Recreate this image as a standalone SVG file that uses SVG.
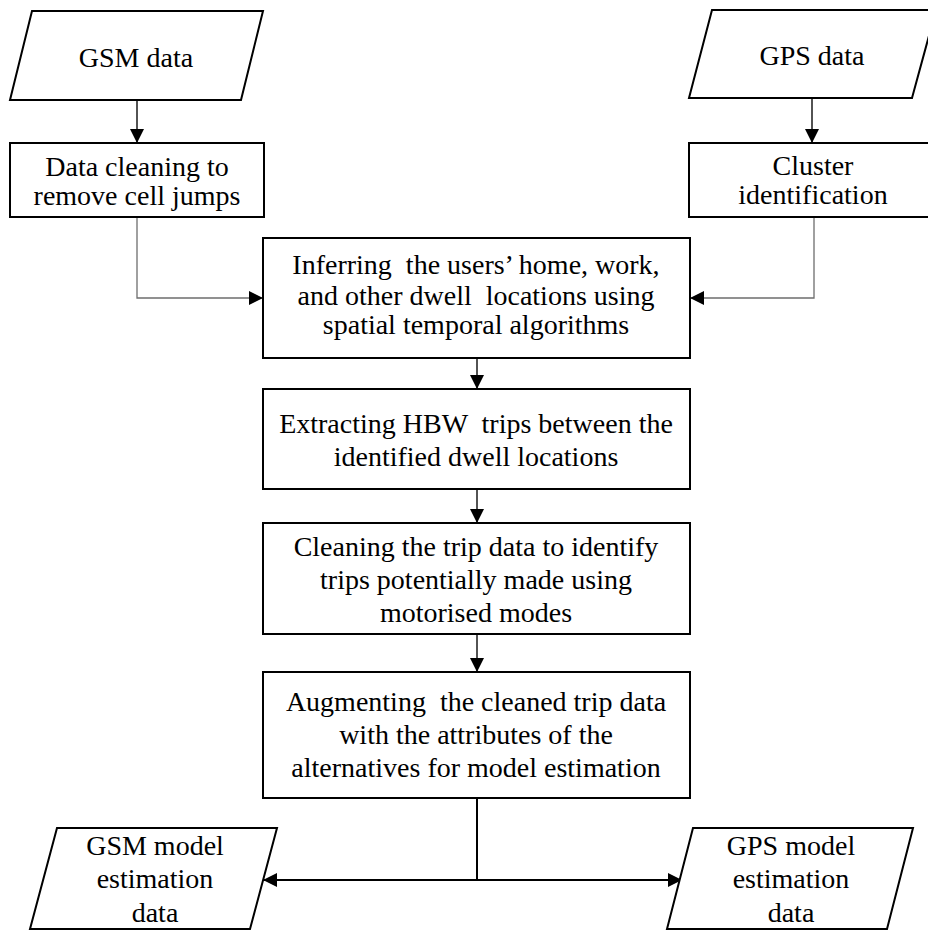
<svg xmlns="http://www.w3.org/2000/svg" width="928" height="930" viewBox="0 0 928 930">
  <style>
    .box { fill: #ffffff; stroke: #000000; stroke-width: 2; }
    .lbl { font-family: "Liberation Serif", "Times New Roman", serif; font-size: 28px; fill: #000000; text-anchor: middle; }
    .flow { fill: none; stroke: #1a1a1a; stroke-width: 1.5; }
    .side { fill: none; stroke: #6e6e6e; stroke-width: 1.3; }
    .out { fill: none; stroke: #000000; stroke-width: 2; }
  </style>
  <defs>
    <marker id="head" markerUnits="userSpaceOnUse" markerWidth="14" markerHeight="14" refX="14" refY="7" orient="auto">
      <path d="M0,0 L14,7 L0,14 Z" fill="#000000"/>
    </marker>
  </defs>

  <rect width="928" height="930" fill="#ffffff"/>

  <!-- connectors -->
  <g id="connectors">
    <line class="flow" x1="137" y1="100" x2="137" y2="143" marker-end="url(#head)"/>
    <line class="flow" x1="812" y1="98" x2="812" y2="143" marker-end="url(#head)"/>
    <polyline class="side" points="137,217 137,298 263,298" marker-end="url(#head)"/>
    <polyline class="side" points="814,217 814,298 690,298" marker-end="url(#head)"/>
    <line class="flow" x1="477" y1="358" x2="477" y2="389" marker-end="url(#head)"/>
    <line class="flow" x1="477" y1="489" x2="477" y2="523" marker-end="url(#head)"/>
    <line class="flow" x1="477" y1="634" x2="477" y2="672" marker-end="url(#head)"/>
    <line class="out" x1="477" y1="798" x2="477" y2="880"/>
    <line class="out" x1="477" y1="880" x2="263" y2="880" marker-end="url(#head)"/>
    <line class="out" x1="477" y1="880" x2="682" y2="880" marker-end="url(#head)"/>
  </g>

  <g id="gsm-data">
    <polygon class="box" points="32,11 263,11 241,100 10,100"/>
    <text class="lbl" x="136" y="67">GSM data</text>
  </g>

  <g id="gps-data">
    <polygon class="box" points="712,10 936,10 912,98 689,98"/>
    <text class="lbl" x="812" y="65">GPS data</text>
  </g>

  <g id="data-cleaning">
    <rect class="box" x="10" y="143" width="254" height="74"/>
    <text class="lbl" x="137" y="176">Data cleaning to</text>
    <text class="lbl" x="137" y="205">remove cell jumps</text>
  </g>

  <g id="cluster-identification">
    <rect class="box" x="689" y="143" width="250" height="74"/>
    <text class="lbl" x="813" y="175">Cluster</text>
    <text class="lbl" x="813" y="204">identification</text>
  </g>

  <g id="inferring">
    <rect class="box" x="263" y="238" width="427" height="120"/>
    <text class="lbl" x="476" y="274" xml:space="preserve">Inferring  the users’ home, work,</text>
    <text class="lbl" x="476" y="305" xml:space="preserve">and other dwell  locations using</text>
    <text class="lbl" x="476" y="334">spatial temporal algorithms</text>
  </g>

  <g id="extracting">
    <rect class="box" x="263" y="389" width="427" height="100"/>
    <text class="lbl" x="476" y="433" xml:space="preserve">Extracting HBW  trips between the</text>
    <text class="lbl" x="476" y="466">identified dwell locations</text>
  </g>

  <g id="cleaning-trips">
    <rect class="box" x="263" y="523" width="427" height="111"/>
    <text class="lbl" x="476" y="556">Cleaning the trip data to identify</text>
    <text class="lbl" x="476" y="589">trips potentially made using</text>
    <text class="lbl" x="476" y="622">motorised modes</text>
  </g>

  <g id="augmenting">
    <rect class="box" x="263" y="672" width="427" height="126"/>
    <text class="lbl" x="476" y="711" xml:space="preserve">Augmenting  the cleaned trip data</text>
    <text class="lbl" x="476" y="744">with the attributes of the</text>
    <text class="lbl" x="476" y="777">alternatives for model estimation</text>
  </g>

  <g id="gsm-model-data">
    <polygon class="box" points="57,828 277,828 250,929 30,929"/>
    <text class="lbl" x="155" y="855">GSM model</text>
    <text class="lbl" x="155" y="888">estimation</text>
    <text class="lbl" x="155" y="922">data</text>
  </g>

  <g id="gps-model-data">
    <polygon class="box" points="693,828 913,828 887,929 667,929"/>
    <text class="lbl" x="791" y="855">GPS model</text>
    <text class="lbl" x="791" y="888">estimation</text>
    <text class="lbl" x="791" y="922">data</text>
  </g>
</svg>
